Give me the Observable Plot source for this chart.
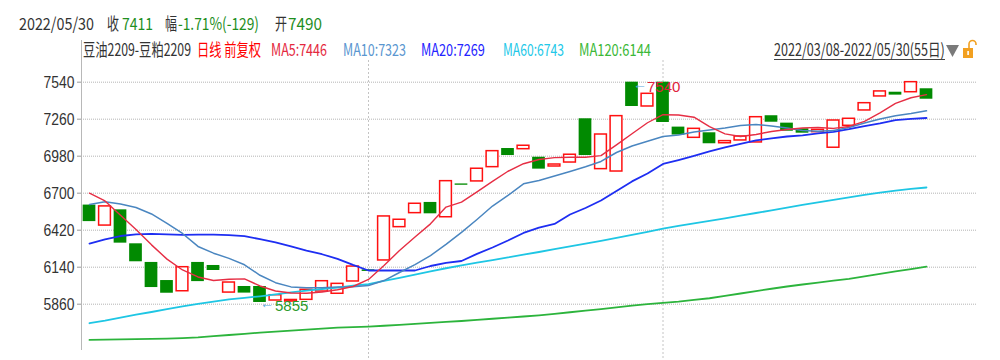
<!DOCTYPE html>
<html><head><meta charset="utf-8">
<script src="https://cdn.jsdelivr.net/npm/d3@7"></script>
<script src="https://cdn.jsdelivr.net/npm/@observablehq/plot@0.6"></script>
<style>
html,body{margin:0;padding:0;background:#fff;}
#wrap{position:relative;width:1000px;height:360px;overflow:hidden;background:#fff;}
#head{display:block}
#chart svg{display:block}
#axisline{position:absolute;left:81px;top:40px;width:1px;height:310px;background:#b8b8b8;}
</style></head><body>
<div id="wrap"><svg id="head" width="1000" height="60"></svg><div id="chart"></div><div id="axisline"></div></div>
<script>
// ---- data ----
const opens  = [6610,6455,6574,6317,6176,6039,5958,6176,6153,5948,5994,5994,5888,5880,5893,5956,5939,6032,6120,6191,
                6443,6549,6630,6518,6770,6789,6897,7038,7033,6972,6902,6932,7263,6882,6864,7540,7356,7540,7200,7119,
                7157,7078,7099,7084,7286,7230,7187,7162,7044,7210,7326,7432,7464,7464,7490];
const closes = [6485,6600,6322,6181,5986,5943,6140,6031,6115,6024,5944,5873,5928,5892,5969,6034,6014,6145,6108,6524,
                6499,6620,6544,6791,6760,6885,7018,6985,7059,6882,6917,6991,6985,7144,7283,7356,7452,7235,7140,7187,
                7074,7094,7129,7275,7237,7169,7154,7180,7250,7263,7381,7470,7442,7540,7411];
const ma5   = [6700,6641,6533,6425,6309,6201,6119,6066,6039,6049,6052,5998,5960,5945,5943,5952,5969,5994,6047,6153,
               6266,6369,6468,6595,6632,6710,6789,6866,6923,6955,6969,6972,6972,6984,7066,7150,7233,7294,7292,7275,
               7203,7149,7129,7144,7167,7182,7193,7198,7190,7205,7243,7307,7379,7422,7446];
const ma10  = [6614,6635,6618,6592,6543,6472,6395,6297,6246,6207,6158,6079,6023,5991,5984,5985,5990,5992,6001,6039,
               6100,6160,6228,6312,6403,6501,6603,6683,6771,6796,6830,6864,6900,6940,7008,7057,7093,7129,7140,7163,
               7178,7193,7212,7220,7209,7193,7174,7169,7174,7197,7231,7261,7286,7303,7323];
const ma20  = [6319,6351,6376,6389,6392,6388,6385,6387,6386,6382,6375,6352,6327,6297,6266,6238,6203,6157,6115,6115,
               6115,6115,6149,6172,6187,6241,6289,6342,6399,6440,6467,6539,6588,6645,6717,6789,6849,6921,6951,6983,
               7016,7047,7073,7099,7114,7129,7138,7152,7164,7184,7208,7229,7253,7262,7269];
const ma60  = [5716,5736,5759,5781,5801,5823,5844,5862,5879,5896,5908,5920,5934,5949,5963,5975,5986,6000,6012,6036,
               6060,6084,6108,6132,6153,6174,6194,6214,6235,6255,6276,6297,6318,6339,6361,6385,6408,6431,6452,6472,
               6490,6509,6530,6550,6570,6591,6611,6630,6649,6668,6687,6705,6719,6732,6743];
const ma120 = [5590,5592,5594,5595,5597,5600,5604,5609,5618,5627,5636,5645,5652,5660,5667,5675,5683,5687,5691,5697,
               5704,5711,5719,5726,5733,5741,5750,5758,5767,5776,5787,5799,5811,5823,5836,5849,5860,5870,5880,5893,
               5905,5923,5941,5959,5977,5994,6009,6024,6038,6052,6071,6090,6108,6126,6144];
const yTicks = [5860, 6140, 6420, 6700, 6980, 7260, 7540];
const monthStarts = [18, 37];
const highMark = [{i: 35, v: 7540}];
const lowMark  = [{i: 11, v: 5855}];
const header = {date: "2022/05/30", close: "7411", pct: "-1.71%(-129)", open: "7490",
                name: "豆油2209-豆粕2209", mode: "日线 前复权", range: "2022/03/08-2022/05/30(55日)"};

// ---- colours ----
const C = {up: "#ff1010", down: "#018a01", ma5: "#e62e44", ma10: "#4a86c0", ma20: "#1e2ef2",
           ma60: "#1ec6e4", ma120: "#2cb43c", green: "#1f8f1f", dark: "#333"};

// squeeze a text element horizontally to a given width (about its anchor point)
function narrow(t, w) {
  const n = t.getComputedTextLength();
  if (!n) return;
  const s = w / n;
  const x = parseFloat(t.getAttribute("x")) || 0;
  const y = parseFloat(t.getAttribute("y")) || 0;
  const tr = t.getAttribute("transform") || "";
  t.setAttribute("transform", `${tr} translate(${x},${y}) scale(${s},1) translate(${-x},${-y})`);
}

// ---- header ----
const head = d3.select("#head");
function ht(x, y, s, color, w) {
  const t = head.append("text").attr("x", x).attr("y", y).attr("fill", color)
    .attr("font-family", "'Noto Sans CJK SC', 'Noto Sans', sans-serif").attr("font-size", 17).text(s);
  narrow(t.node(), w);
}
ht(19, 30, header.date, C.dark, 75);
ht(107, 30, "收", C.dark, 12);
ht(122, 30, header.close, C.green, 31);
ht(165, 30, "幅", C.dark, 12);
ht(178, 30, header.pct, C.green, 81);
ht(275, 30, "开", C.dark, 12);
ht(288, 30, header.open, C.green, 34);
const last = a => a[a.length - 1];
ht(83, 56, header.name, C.dark, 108);
ht(197, 56, header.mode, "#ff0000", 64);
ht(271, 56, "MA5:" + last(ma5), "#e4283e", 56);
ht(343, 56, "MA10:" + last(ma10), "#5a96d0", 63);
ht(421, 56, "MA20:" + last(ma20), "#2424ff", 64);
ht(503, 56, "MA60:" + last(ma60), "#22c8e8", 61);
ht(579, 56, "MA120:" + last(ma120), "#3cb838", 72);
ht(774, 56, header.range, C.dark, 171);
head.append("line").attr("x1", 774).attr("x2", 945).attr("y1", 59.5).attr("y2", 59.5).attr("stroke", "#444");
head.append("path").attr("d", "M946,45 L959,45 L952.5,57 Z").attr("fill", "#7a7a7a");
head.append("path").attr("d", "M969,48 L969,44 A3.5,3.5 0 0 1 976,44 L976,45").attr("fill", "none").attr("stroke", "#f2a020").attr("stroke-width", 1.6);
head.append("rect").attr("x", 963).attr("y", 48).attr("width", 10).attr("height", 10).attr("fill", "#f2a020");
head.append("rect").attr("x", 967.3).attr("y", 51).attr("width", 1.6).attr("height", 4).attr("fill", "#fff");

// ---- chart ----
const candles = opens.map((o, i) => ({i, open: o, close: closes[i]}));
const up = candles.filter(d => d.close >= d.open);
const down = candles.filter(d => d.close < d.open);
const idx = (d, i) => i;

const chart = Plot.plot({
  width: 1000, height: 300,
  marginLeft: 81, marginRight: 23, marginTop: 0, marginBottom: 0,
  style: {fontFamily: "'Liberation Sans', Arial, sans-serif", background: "#fff", color: "#333"},
  x: {domain: [0, 54], range: [89, 926], axis: null},
  y: {domain: [5434, 7704], range: [300, 0]},
  marks: [
    Plot.ruleY(yTicks, {stroke: "#b4b4b4", strokeDasharray: "1,1"}),
    Plot.ruleX(monthStarts, {stroke: "#c4c4c4", strokeDasharray: "2,2"}),
    Plot.rect(down, {x1: d => d.i - 0.41, x2: d => d.i + 0.41, y1: "open", y2: "close", fill: C.down}),
    Plot.rect(up, {x1: d => d.i - 0.38, x2: d => d.i + 0.38, y1: "open", y2: "close", fill: "#fff", stroke: C.up, strokeWidth: 1.5}),
    Plot.line(ma120, {x: idx, y: d => d, stroke: C.ma120, strokeWidth: 1.8}),
    Plot.line(ma60, {x: idx, y: d => d, stroke: C.ma60, strokeWidth: 1.8}),
    Plot.line(ma20, {x: idx, y: d => d, stroke: C.ma20, strokeWidth: 1.8}),
    Plot.line(ma10, {x: idx, y: d => d, stroke: C.ma10, strokeWidth: 1.5}),
    Plot.line(ma5, {x: idx, y: d => d, stroke: C.ma5, strokeWidth: 1.4}),
    Plot.text(highMark, {x: "i", y: "v", text: () => "←", dx: 1, dy: 2, textAnchor: "start", fontSize: 14, fill: "#58a8dc"}),
    Plot.text(highMark, {x: "i", y: "v", text: d => String(d.v), dx: 15, dy: 5, textAnchor: "start", fontSize: 15, fill: "#e0203c", ariaLabel: "high label"}),
    Plot.text(lowMark, {x: "i", y: "v", text: () => "←", dx: 0, dy: -1, textAnchor: "start", fontSize: 14, fill: "#58a8dc"}),
    Plot.text(lowMark, {x: "i", y: "v", text: d => String(d.v), dx: 15, dy: 1, textAnchor: "start", fontSize: 15, fill: "#2a9a2a", ariaLabel: "low label"}),
    Plot.axisY({ticks: yTicks, tickSize: 4, tickPadding: 3, fontSize: 17, label: null, tickFormat: d => String(d)})
  ]
});
document.getElementById("chart").appendChild(chart);

// narrow the digits like the reference
chart.querySelectorAll('g[aria-label="y-axis tick label"] text').forEach(t => narrow(t, 31));
const tick = chart.querySelector('g[aria-label="y-axis tick"]');
if (tick) tick.setAttribute("stroke", "#999");
chart.querySelectorAll('g[aria-label="high label"] text, g[aria-label="low label"] text').forEach(t => narrow(t, 28));
</script>
</body></html>
